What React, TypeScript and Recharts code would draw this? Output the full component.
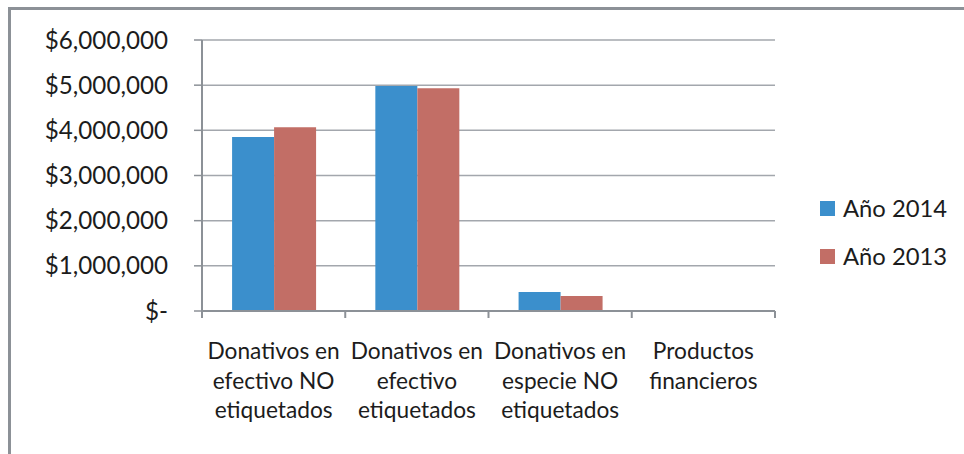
import { Bar, BarChart, CartesianGrid, Legend, XAxis, YAxis } from 'recharts'

const categories = [
  'Donativos en efectivo NO etiquetados',
  'Donativos en efectivo etiquetados',
  'Donativos en especie NO etiquetados',
  'Productos financieros',
]
const year2014 = [3850000, 4980000, 420000, 0]
const year2013 = [4070000, 4930000, 330000, 0]
const yTicks = [0, 1000000, 2000000, 3000000, 4000000, 5000000, 6000000]
const seriesNames = ['Año 2014', 'Año 2013']
const seriesColors = ['#3b8fcc', '#c26e66']

const data = categories.map((name, i) => ({
  name,
  y2014: year2014[i],
  y2013: year2013[i],
}))

const W = 964
const H = 454
const MARGIN = { top: 40, right: 189, bottom: 0, left: 0 }
const Y_AXIS_W = 202
const X_AXIS_H = 143
const TICK_LEN = 7
const BAND = (W - MARGIN.right - Y_AXIS_W) / categories.length
const FONT = 'Lato, "Open Sans", sans-serif'
const TEXT = '#1c1c1c'
const AXIS = '#8c9197'
const GRID = '#a3a7ad'

function wrapLabel(s: string, max = 12) {
  const out: string[] = []
  let cur = ''
  for (const w of s.split(' ')) {
    const next = cur ? cur + ' ' + w : w
    if (next.length > max && cur) {
      out.push(cur)
      cur = w
    } else {
      cur = next
    }
  }
  if (cur) out.push(cur)
  return out
}

function formatMoney(v: number) {
  if (v === 0) return '$-'
  return '$' + v.toLocaleString('en-US')
}

function CategoryTick(props: any) {
  const { x, y, payload, index } = props
  const lines = wrapLabel(String(payload.value))
  const half = BAND / 2
  const axisY = y - TICK_LEN
  return (
    <g>
      <line x1={x - half} x2={x - half} y1={axisY} y2={axisY + TICK_LEN} stroke={AXIS} strokeWidth={2} />
      {index === categories.length - 1 && (
        <line x1={x + half} x2={x + half} y1={axisY} y2={axisY + TICK_LEN} stroke={AXIS} strokeWidth={2} />
      )}
      <text x={x} y={y + 41} textAnchor="middle" fill={TEXT} fontSize={22.7} fontFamily={FONT}>
        {lines.map((l, i) => (
          <tspan key={i} x={x} dy={i === 0 ? 0 : 29.5}>
            {l}
          </tspan>
        ))}
      </text>
    </g>
  )
}

function LegendBox() {
  return (
    <div style={{ fontFamily: FONT, fontSize: 23.8, color: TEXT }}>
      {seriesNames.map((n, i) => (
        <div key={n} style={{ display: 'flex', alignItems: 'center', height: 48 }}>
          <span
            style={{
              display: 'inline-block',
              width: 15,
              height: 15,
              background: seriesColors[i],
              marginRight: 8,
            }}
          />
          <span>{n}</span>
        </div>
      ))}
    </div>
  )
}

export default function App() {
  return (
    <div style={{ position: 'absolute', left: 0, top: 0, width: W, height: H, overflow: 'hidden', background: '#fff' }}>
      <div
        style={{
          position: 'absolute',
          left: 8,
          top: 7,
          width: W + 20,
          height: H + 20,
          borderLeft: `3px solid ${AXIS}`,
          borderTop: `3px solid ${AXIS}`,
        }}
      />
      <BarChart width={W} height={H} data={data} margin={MARGIN} barCategoryGap="21%" barGap={0}>
        <CartesianGrid vertical={false} stroke={GRID} strokeWidth={1.5} />
        <XAxis
          dataKey="name"
          height={X_AXIS_H}
          interval={0}
          tickLine={false}
          tickSize={TICK_LEN}
          tickMargin={0}
          axisLine={{ stroke: AXIS, strokeWidth: 2 }}
          tick={<CategoryTick />}
        />
        <YAxis
          width={Y_AXIS_W}
          domain={[0, 6000000]}
          ticks={yTicks}
          tickFormatter={formatMoney}
          tickSize={8}
          tickMargin={26}
          tickLine={{ stroke: AXIS, strokeWidth: 1.5 }}
          axisLine={{ stroke: AXIS, strokeWidth: 2 }}
          tick={{ fill: TEXT, fontSize: 24.2, fontFamily: FONT }}
        />
        <Legend
          layout="vertical"
          align="center"
          verticalAlign="middle"
          wrapperStyle={{ left: 820, top: 184, width: 'auto' }}
          content={<LegendBox />}
        />
        <Bar dataKey="y2014" name={seriesNames[0]} fill={seriesColors[0]} isAnimationActive={false} />
        <Bar dataKey="y2013" name={seriesNames[1]} fill={seriesColors[1]} isAnimationActive={false} />
      </BarChart>
    </div>
  )
}
